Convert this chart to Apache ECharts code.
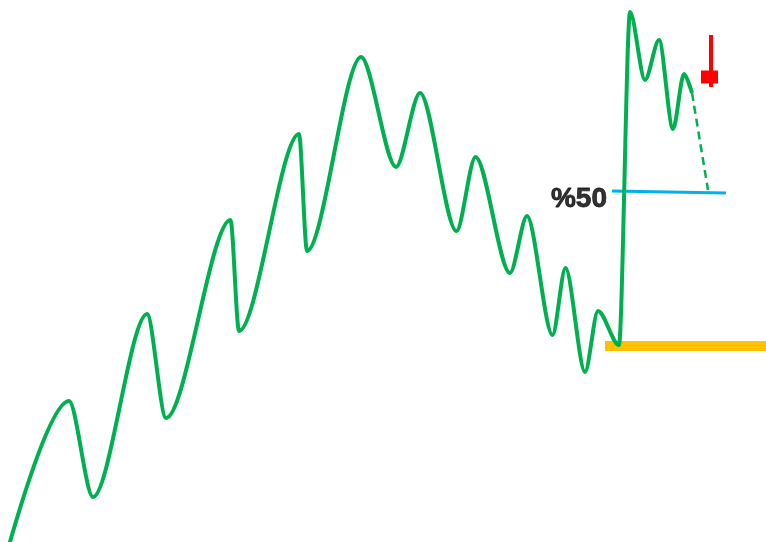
<!DOCTYPE html>
<html>
<head>
<meta charset="utf-8">
<script src="https://cdn.jsdelivr.net/npm/echarts@6/dist/echarts.min.js"></script>
<style>
html,body{margin:0;padding:0;background:#fff;}
#chart{width:766px;height:542px;}
</style>
</head>
<body>
<div id="chart"></div>
<script>
// Swing pivots of the price path (time index, price)
const pivotTime  = [-30, 69, 93, 147, 166, 230.5, 239, 299, 307, 361, 396, 420, 456.5, 475.5, 510, 527, 552.5, 565.5, 585, 598, 619, 630, 645, 659, 673, 684, 692];
const pivotPrice = [-152, 141, 45, 228, 124, 322, 211, 408, 291, 485, 375, 449, 311, 385, 269, 326, 207, 274, 170, 231, 197, 530, 462, 502, 413, 468, 449];
// Projected move (dashed)
const projTime  = [692, 708];
const projPrice = [449, 352];
// 50% retracement level
const halfTime  = [612, 726];
const halfPrice = [351, 349];
const halfLabel = '%50';
// Support level (orange)
const supportTime  = [605, 766];
const supportPrice = [196, 196];
// Red marker (candle-like)
const markerTime = 711;
const markerHigh = 507;
const markerLow  = 455;
const markerBodyTime = 709.5;
const markerBody = 465;

const pair = (xs, ys) => xs.map((x, i) => [x, ys[i]]);

const chart = echarts.init(document.getElementById('chart'), null, {renderer: 'canvas'});
chart.setOption({
  animation: false,
  backgroundColor: '#ffffff',
  grid: {left: 0, right: 0, top: 0, bottom: 0},
  xAxis: {type: 'value', min: 0, max: 766, show: false},
  yAxis: {type: 'value', min: 0, max: 542, show: false},
  series: [
    {
      type: 'line',
      data: pair(supportTime, supportPrice),
      symbol: 'none',
      lineStyle: {color: '#FFC000', width: 10, cap: 'butt'},
      z: 1
    },
    {
      type: 'line',
      data: pair(pivotTime, pivotPrice),
      symbol: 'none',
      smooth: 0.3,
      smoothMonotone: 'x',
      clip: true,
      lineStyle: {color: '#00B050', width: 4},
      z: 3
    },
    {
      type: 'line',
      data: pair(projTime, projPrice),
      symbol: 'none',
      lineStyle: {color: '#00B050', width: 2.5, type: [8, 5]},
      z: 3
    },
    {
      type: 'line',
      data: pair(halfTime, halfPrice),
      symbol: 'none',
      lineStyle: {color: '#00B0F0', width: 3},
      z: 2
    },
    {
      type: 'scatter',
      data: [[halfTime[0], halfPrice[0]]],
      symbolSize: 0,
      label: {
        show: true, position: 'left', formatter: halfLabel,
        color: '#000000', fontSize: 28, fontWeight: 'bold',
        fontFamily: 'Liberation Sans, Arial, sans-serif',
        textBorderColor: '#000000', textBorderWidth: 0.8,
        distance: 5, offset: [0, 8]
      },
      z: 5
    },
    {
      type: 'line',
      data: [[markerTime, markerHigh], [markerTime, markerLow]],
      symbol: 'none',
      lineStyle: {color: '#FF0000', width: 4, cap: 'butt'},
      z: 4
    },
    {
      type: 'scatter',
      data: [[markerBodyTime, markerBody]],
      symbol: 'rect',
      symbolSize: [17, 13],
      itemStyle: {color: '#FF0000', opacity: 1},
      z: 4
    }
  ]
});
</script>
</body>
</html>
